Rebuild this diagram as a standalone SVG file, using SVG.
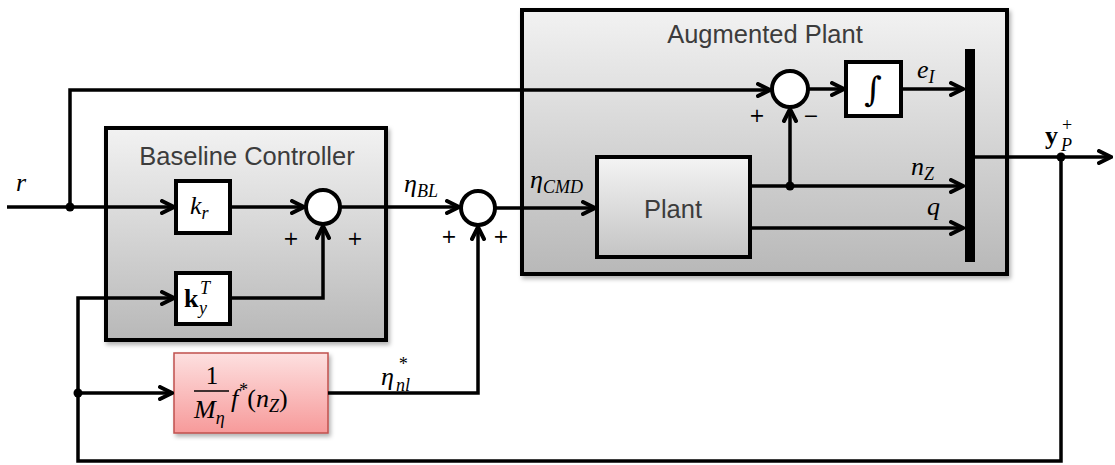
<svg xmlns="http://www.w3.org/2000/svg" width="1115" height="465" viewBox="0 0 1115 465">
<defs>
<linearGradient id="gBox" x1="0" y1="0" x2="0" y2="1">
<stop offset="0" stop-color="#f2f2f2"/><stop offset="1" stop-color="#b8b8b8"/>
</linearGradient>
<linearGradient id="gPlant" x1="0" y1="0" x2="0" y2="1">
<stop offset="0" stop-color="#f4f4f4"/><stop offset="1" stop-color="#c4c4c4"/>
</linearGradient>
<linearGradient id="gPink" x1="0" y1="0" x2="0" y2="1">
<stop offset="0" stop-color="#fde0e0"/><stop offset="1" stop-color="#f79a9a"/>
</linearGradient>
<filter id="sh" x="-5%" y="-5%" width="110%" height="115%">
<feDropShadow dx="2" dy="3" stdDeviation="2" flood-color="#000" flood-opacity="0.3"/>
</filter>
<marker id="arr" viewBox="0 0 16 16" markerWidth="16" markerHeight="16" refX="14" refY="8" orient="auto" markerUnits="userSpaceOnUse">
<path d="M2,2 L14,8 L2,14" fill="none" stroke="#000" stroke-width="4" stroke-linecap="round" stroke-linejoin="miter"/>
</marker>
</defs>
<style>
.box{stroke:#000;stroke-width:4}
.blk{fill:#fff;stroke:#000;stroke-width:4}
.w{fill:none;stroke:#000;stroke-width:3.5}
.title{font-family:"Liberation Sans",Arial,sans-serif;font-size:25.5px;fill:#3c3c3c;text-anchor:middle}
.m{font-family:"Liberation Serif","Times New Roman",serif;font-style:italic;font-size:26px;fill:#000}
.sub{font-size:18px}
.ss{font-family:"Liberation Serif","Times New Roman",serif;font-style:italic;font-size:18px;fill:#000}
.bf{font-style:normal;font-weight:bold}
.s{font-family:"Liberation Serif","Times New Roman",serif;font-size:22px;fill:#000;text-anchor:middle}
.pm{font-family:"DejaVu Sans",sans-serif;font-size:19px;fill:#000;text-anchor:middle}
.dot{fill:#000}
</style>

<g id="baseline-controller">
<rect x="106" y="128" width="280" height="212" class="box" fill="url(#gBox)" filter="url(#sh)"/>
<text x="247" y="165" class="title">Baseline Controller</text>
</g>

<g id="augmented-plant">
<rect x="522" y="10" width="485" height="264" class="box" fill="url(#gBox)" filter="url(#sh)"/>
<text x="765" y="43" class="title">Augmented Plant</text>
</g>

<g id="kr">
<rect x="176" y="181" width="54" height="52" class="blk"/>
<text x="190" y="214" class="m">k<tspan class="sub" dy="5">r</tspan></text>
</g>

<g id="ky">
<rect x="176" y="273" width="54" height="51" class="blk"/>
<text x="184" y="307" class="m"><tspan class="bf">k</tspan></text>
<text x="200" y="294" class="ss">T</text>
<text x="199" y="314" class="ss">y</text>
</g>

<g id="sum1">
<circle cx="323" cy="207" r="17" class="blk"/>
<text x="291" y="245" class="pm">+</text>
<text x="355" y="245" class="pm">+</text>
</g>

<g id="sum2">
<circle cx="478" cy="208" r="17" class="blk"/>
<text x="449" y="243" class="pm">+</text>
<text x="501" y="243" class="pm">+</text>
</g>

<g id="plant">
<rect x="597" y="157" width="153" height="100" class="box" fill="url(#gPlant)"/>
<text x="673" y="218" class="title">Plant</text>
</g>

<g id="sum3">
<circle cx="790" cy="89" r="18" class="blk"/>
<text x="757" y="122" class="pm">+</text>
<text x="811" y="122" class="pm">−</text>
</g>

<g id="integrator">
<rect x="846" y="62" width="55" height="54" class="blk"/>
<text x="873" y="101" class="s" style="font-family:'DejaVu Serif',serif;font-size:34px">∫</text>
</g>

<g id="mux">
<rect x="965" y="49" width="10" height="213" fill="#000"/>
</g>

<g id="nonlinear">
<rect x="174" y="353" width="154" height="80" fill="url(#gPink)" stroke="#c0504d" stroke-width="1.5" filter="url(#sh)"/>
<text x="212" y="384" class="s" style="font-size:25px">1</text>
<line x1="194" y1="391" x2="229" y2="391" stroke="#000" stroke-width="1.5"/>
<text x="194" y="418" class="m">M<tspan class="sub" dy="6">η</tspan></text>
<text x="231" y="407" class="m">f<tspan class="sub" dy="-11">*</tspan><tspan style="font-style:normal" dy="11">(</tspan>n<tspan class="sub" dy="5">Z</tspan><tspan style="font-style:normal" dy="-5">)</tspan></text>
</g>

<g id="connectors">
<line x1="7" y1="207" x2="174" y2="207" class="w" marker-end="url(#arr)"/>
<polyline points="70,207 70,90 770,90" class="w" marker-end="url(#arr)"/>
<line x1="230" y1="207" x2="304" y2="207" class="w" marker-end="url(#arr)"/>
<polyline points="230,298 323,298 323,226" class="w" marker-end="url(#arr)"/>
<line x1="340" y1="207" x2="459" y2="207" class="w" marker-end="url(#arr)"/>
<line x1="495" y1="208" x2="595" y2="208" class="w" marker-end="url(#arr)"/>
<polyline points="328,393 478,393 478,227" class="w" marker-end="url(#arr)"/>
<line x1="808" y1="89" x2="844" y2="89" class="w" marker-end="url(#arr)"/>
<line x1="901" y1="89" x2="963" y2="89" class="w" marker-end="url(#arr)"/>
<line x1="750" y1="186" x2="963" y2="186" class="w" marker-end="url(#arr)"/>
<line x1="790" y1="186" x2="790" y2="109" class="w" marker-end="url(#arr)"/>
<line x1="750" y1="228" x2="963" y2="228" class="w" marker-end="url(#arr)"/>
<line x1="975" y1="157" x2="1111" y2="157" class="w" marker-end="url(#arr)"/>
<polyline points="1061,157 1061,461 78,461 78,298 174,298" class="w" marker-end="url(#arr)"/>
<line x1="78" y1="393" x2="172" y2="393" class="w" marker-end="url(#arr)"/>
<circle cx="70" cy="207" r="4.5" class="dot"/>
<circle cx="790" cy="186" r="4.5" class="dot"/>
<circle cx="1061" cy="157" r="4.5" class="dot"/>
<circle cx="78" cy="393" r="4.5" class="dot"/>
</g>

<g id="labels">
<text x="16" y="191" class="m">r</text>
<text x="404" y="192" class="m">η<tspan class="sub" dy="5">BL</tspan></text>
<text x="530" y="188" class="m">η<tspan class="sub" dy="5">CMD</tspan></text>
<text x="917" y="78" class="m">e<tspan class="sub" dy="5">I</tspan></text>
<text x="911" y="175" class="m">n<tspan class="sub" dy="5">Z</tspan></text>
<text x="927" y="215" class="m">q</text>
<text x="381" y="385" class="m">η</text>
<text x="398" y="370" class="ss">*</text>
<text x="396" y="391" class="ss">nl</text>
<text x="1045" y="144" class="m"><tspan class="bf">y</tspan></text>
<text x="1062" y="131" class="ss" style="font-style:normal">+</text>
<text x="1061" y="151" class="ss">P</text>
</g>
</svg>
